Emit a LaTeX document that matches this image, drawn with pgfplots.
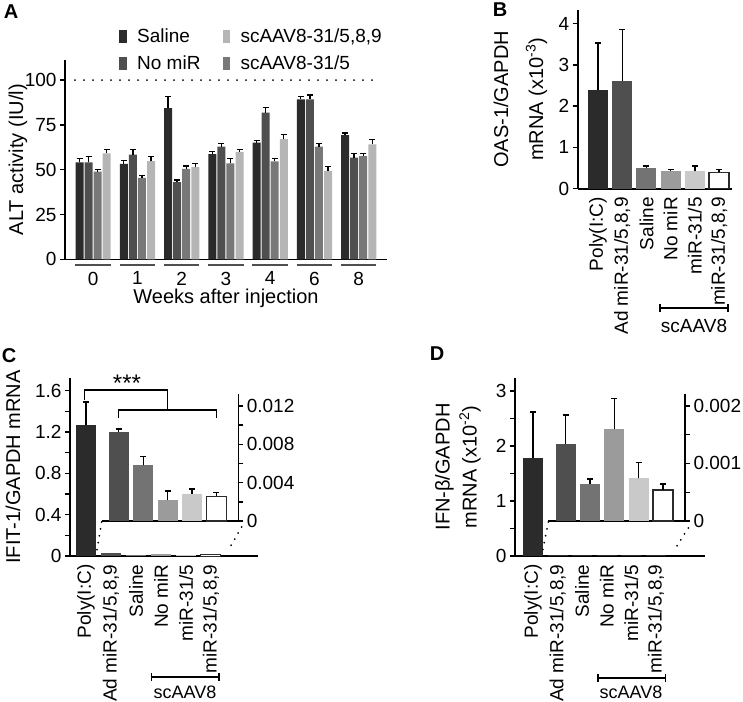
\documentclass[border=0pt]{standalone}
\usepackage{pgfplots}
\pgfplotsset{compat=1.18}
\usepackage{fontspec}
\setmainfont{Liberation Sans}

\definecolor{g1}{HTML}{2B2B2B}
\definecolor{g2}{HTML}{4F4F4F}
\definecolor{g3}{HTML}{737373}
\definecolor{g4}{HTML}{9B9B9B}
\definecolor{g5}{HTML}{C9C9C9}
\definecolor{a3}{HTML}{787878}
\definecolor{a4}{HTML}{B5B5B5}

\pgfplotsset{
  base/.style={
    scale only axis, clip=false,
    axis line style={line width=1.6bp, black},
    tick style={line width=1.4bp, black},
    tick align=outside,
    major tick length=5bp,
    tick label style={font=\fontsize{19bp}{21bp}\selectfont},
    /pgf/number format/assume math mode=true,
    scaled y ticks=false, scaled x ticks=false,
    label style={font=\fontsize{20bp}{24bp}\selectfont},
    ybar, bar width=20bp,
  },
  eb/.style={error bars/y dir=plus, error bars/y explicit,
    error bars/error mark=-,
    error bars/error bar style={line width=1.3bp, black},
    error bars/error mark options={line width=1.3bp, black, mark size=3bp, rotate=90}},
  sqlegend/.style={legend image code/.code={\fill[##1,draw=none] (0bp,-6.5bp) rectangle (7.5bp,6.5bp); \path[draw=none,fill=none] (0bp,-13.5bp) rectangle (18bp,13.5bp);}},
}

\begin{document}
\begin{tikzpicture}
\path[use as bounding box] (0,0) rectangle (743bp,-702bp);

% ---------------- Panel A ----------------
\begin{axis}[base, at={(65bp,-259.3bp)}, anchor=south west,
  width=322bp, height=199.3bp,
  xmin=-0.636, xmax=6.64, ymin=0, ymax=111.2,
  axis x line*=bottom, axis y line*=left,
  ytick={0,25,50,75,100}, xtick={0,...,6}, xticklabels={0,1,2,3,4,6,8},
  x tick style={draw=none}, xticklabel shift=4bp,
  bar width=8bp,
  xlabel={Weeks after injection},
  xlabel style={at={(axis description cs:0.5,-0.196)}, anchor=center},
  ylabel={ALT activity (IU/l)},
  ylabel style={at={(axis description cs:-0.146,0.5)}, anchor=center},
  legend columns=2, transpose legend, legend cell align=left,
  legend style={at={(axis description cs:0.1677,1.188)}, anchor=north west,
    draw=none, fill=none, inner sep=0pt,
    font=\fontsize{19bp}{21bp}\selectfont, nodes={inner sep=0pt},
    /tikz/every even column/.append style={column sep=22bp}},
]
\addplot[fill=g1, draw=none, bar shift=-13.6bp, sqlegend, eb] coordinates {
 (0,54.1) +- (0,2.0) (1,53.2) +- (0,1.8) (2,84.4) +- (0,6.3) (3,58.7) +- (0,1.5)
 (4,65.1) +- (0,1.3) (5,89.2) +- (0,1.5) (6,69.3) +- (0,1.1)};
\addlegendentry{Saline}
\addplot[fill=g2, draw=none, bar shift=-4.55bp, sqlegend, eb] coordinates {
 (0,54.1) +- (0,3.1) (1,58.4) +- (0,2.9) (2,43.1) +- (0,1.1) (3,62.8) +- (0,1.7)
 (4,81.8) +- (0,2.8) (5,89.2) +- (0,2.4) (6,56.7) +- (0,2.4)};
\addlegendentry{No miR}
\addplot[fill=a4, draw=none, bar shift=13.6bp, sqlegend, eb] coordinates {
 (0,59.1) +- (0,2.2) (1,54.8) +- (0,2.4) (2,51.5) +- (0,1.8) (3,59.9) +- (0,1.4)
 (4,67.1) +- (0,2.6) (5,49.3) +- (0,2.6) (6,64.1) +- (0,2.6)};
\addlegendentry{scAAV8-31/5,8,9}
\addplot[fill=a3, draw=none, bar shift=4.55bp, sqlegend, eb] coordinates {
 (0,48.9) +- (0,1.3) (1,45.4) +- (0,1.3) (2,50.4) +- (0,1.6) (3,53.5) +- (0,2.6)
 (4,54.6) +- (0,1.5) (5,62.8) +- (0,1.7) (6,57.6) +- (0,1.5)};
\addlegendentry{scAAV8-31/5}
\draw[line width=2bp, line cap=round, dash pattern=on 0bp off 9bp] (axis cs:-0.41,100) -- (axis cs:6.48,100);
\draw[line width=2bp, g2] (axis cs:-0.4,-3) -- (axis cs:0.4,-3);
\draw[line width=2bp, g2] (axis cs:0.6,-3) -- (axis cs:1.4,-3);
\draw[line width=2bp, g2] (axis cs:1.6,-3) -- (axis cs:2.4,-3);
\draw[line width=2bp, g2] (axis cs:2.6,-3) -- (axis cs:3.4,-3);
\draw[line width=2bp, g2] (axis cs:3.6,-3) -- (axis cs:4.4,-3);
\draw[line width=2bp, g2] (axis cs:4.6,-3) -- (axis cs:5.4,-3);
\draw[line width=2bp, g2] (axis cs:5.6,-3) -- (axis cs:6.4,-3);
\end{axis}

% ---------------- Panel B ----------------
\begin{axis}[base, at={(577.7bp,-188.7bp)}, anchor=south west,
  width=154bp, height=178.7bp,
  xmin=-0.84, xmax=5.52, ymin=0, ymax=4.33,
  axis x line*=bottom, axis y line*=left,
  ytick={0,1,2,3,4}, xtick={0,...,5},
  xticklabels={{Poly(I:C)},{Ad miR-31/5,8,9},{Saline},{No miR},{miR-31/5},{miR-31/5,8,9}},
  x tick style={draw=none}, xticklabel style={rotate=90, anchor=east},
  ylabel={OAS-1/GAPDH\\mRNA (x10\textsuperscript{-3})},
  ylabel style={at={(axis description cs:-0.371,0.5)}, anchor=center, align=center,
    font=\fontsize{20bp}{35bp}\selectfont},
]
\addplot[fill=g1, draw=none, bar shift=0pt, eb] coordinates {(0,2.40) +- (0,1.13)};
\addplot[fill=g2, draw=none, bar shift=0pt, eb] coordinates {(1,2.60) +- (0,1.26)};
\addplot[fill=g3, draw=none, bar shift=0pt, eb] coordinates {(2,0.50) +- (0,0.05)};
\addplot[fill=g4, draw=none, bar shift=0pt, eb] coordinates {(3,0.42) +- (0,0.05)};
\addplot[fill=g5, draw=none, bar shift=0pt, eb] coordinates {(4,0.42) +- (0,0.13)};
\addplot[fill=white, draw=g1, line width=1.3bp, bar shift=0pt, eb] coordinates {(5,0.40) +- (0,0.07)};
\end{axis}
\draw[line width=1.5bp] (660bp,-304bp) -- (660bp,-312bp) (660bp,-308bp) -- (728bp,-308bp) (728bp,-304bp) -- (728bp,-312bp);
\node[font=\fontsize{19bp}{21bp}\selectfont] at (694bp,-326bp) {scAAV8};

% ---------------- Panel C ----------------
\begin{axis}[base, at={(70bp,-556bp)}, anchor=south west,
  width=188bp, height=178bp,
  xmin=-0.64, xmax=6.88, ymin=0, ymax=1.723,
  axis x line*=bottom, axis y line*=left,
  ytick={0,0.2,0.4,0.6,0.8,1.0,1.2,1.4,1.6}, yticklabels={0,,0.4,,0.8,,1.2,,1.6},
  xtick={0,...,5},
  xticklabels={{Poly(I:C)},{Ad miR-31/5,8,9},{Saline},{No miR},{miR-31/5},{miR-31/5,8,9}},
  x tick style={draw=none}, xticklabel style={rotate=90, anchor=east},
  ylabel={IFIT-1/GAPDH mRNA},
  ylabel style={at={(axis description cs:-0.303,0.5)}, anchor=center},
]
\addplot[fill=g1, draw=none, bar shift=0pt, eb] coordinates {(0,1.27) +- (0,0.22)};
\addplot[fill=g2, draw=none, bar shift=0pt] coordinates {(1,0.028)};
\addplot[fill=g3, draw=none, bar shift=0pt] coordinates {(2,0.014)};
\addplot[fill=g4, draw=none, bar shift=0pt] coordinates {(3,0.016)};
\addplot[fill=g5, draw=none, bar shift=0pt] coordinates {(4,0.012)};
\addplot[fill=white, draw=g1, line width=1bp, bar shift=0pt] coordinates {(5,0.014)};
\end{axis}
\begin{axis}[base, at={(238.3bp,-521bp)}, anchor=south east,
  width=136.6bp, height=127bp,
  xmin=-0.70, xmax=4.90, ymin=0, ymax=0.01325,
  axis x line*=bottom, axis y line*=right,
  ytick={0,0.002,0.004,0.006,0.008,0.010,0.012}, yticklabels={0,,0.004,,0.008,,0.012},
  xtick=\empty,
]
\addplot[fill=g2, draw=none, bar shift=0pt, eb] coordinates {(0,0.00925) +- (0,0.00035)};
\addplot[fill=g3, draw=none, bar shift=0pt, eb] coordinates {(1,0.0058) +- (0,0.0009)};
\addplot[fill=g4, draw=none, bar shift=0pt, eb] coordinates {(2,0.00216) +- (0,0.00097)};
\addplot[fill=g5, draw=none, bar shift=0pt, eb] coordinates {(3,0.00282) +- (0,0.00052)};
\addplot[fill=white, draw=g1, line width=1.3bp, bar shift=0pt, eb] coordinates {(4,0.00257) +- (0,0.00043)};
\end{axis}
\draw[line width=1.5bp] (84.3bp,-400bp) -- (84.3bp,-390bp) -- (167.7bp,-390bp) -- (167.7bp,-410bp);
\draw[line width=1.5bp] (118.3bp,-418bp) -- (118.3bp,-410bp) -- (216.7bp,-410bp) -- (216.7bp,-418bp);
\node[font=\fontsize{24bp}{24bp}\selectfont] at (127bp,-383bp) {***};
\draw[line width=2bp, line cap=round, dash pattern=on 0bp off 7bp] (101.7bp,-522bp) -- (96.7bp,-552bp);
\draw[line width=2bp, line cap=round, dash pattern=on 0bp off 7bp] (241.7bp,-527bp) -- (228.3bp,-550bp);
\draw[line width=1.5bp] (151.7bp,-673bp) -- (151.7bp,-681bp) (151.7bp,-677bp) -- (219bp,-677bp) (219bp,-673bp) -- (219bp,-681bp);
\node[font=\fontsize{18bp}{20bp}\selectfont] at (185bp,-692bp) {scAAV8};

% ---------------- Panel D ----------------
\begin{axis}[base, at={(515bp,-556bp)}, anchor=south west,
  width=190bp, height=178bp,
  xmin=-0.73, xmax=6.99, ymin=0, ymax=3.236,
  axis x line*=bottom, axis y line*=left,
  ytick={0,0.5,1,1.5,2,2.5,3}, yticklabels={0,,1,,2,,3},
  xtick={0,...,5},
  xticklabels={{Poly(I:C)},{Ad miR-31/5,8,9},{Saline},{No miR},{miR-31/5},{miR-31/5,8,9}},
  x tick style={draw=none}, xticklabel style={rotate=90, anchor=east},
  ylabel={IFN-β/GAPDH\\mRNA (x10\textsuperscript{-2})},
  ylabel style={at={(axis description cs:-0.3,0.5)}, anchor=center, align=center,
    font=\fontsize{20bp}{27bp}\selectfont},
]
\addplot[fill=g1, draw=none, bar shift=0pt, eb] coordinates {(0,1.78) +- (0,0.84)};
\addplot[fill=g1, draw=none, bar shift=0pt] coordinates {(1,0.015)};
\addplot[fill=g1, draw=none, bar shift=0pt] coordinates {(2,0.02)};
\addplot[fill=g1, draw=none, bar shift=0pt] coordinates {(3,0.015)};
\addplot[fill=g1, draw=none, bar shift=0pt] coordinates {(4,0.015)};
\addplot[fill=g1, draw=none, bar shift=0pt] coordinates {(5,0.015)};
\end{axis}
\begin{axis}[base, at={(685bp,-521bp)}, anchor=south east,
  width=137bp, height=126.7bp,
  xmin=-0.73, xmax=4.91, ymin=0, ymax=0.0022,
  axis x line*=bottom, axis y line*=right,
  ytick={0,0.0005,0.001,0.0015,0.002}, yticklabels={0,,0.001,,0.002},
  xtick=\empty,
]
\addplot[fill=g2, draw=none, bar shift=0pt, eb] coordinates {(0,0.001345) +- (0,0.000495)};
\addplot[fill=g3, draw=none, bar shift=0pt, eb] coordinates {(1,0.000643) +- (0,0.000087)};
\addplot[fill=g4, draw=none, bar shift=0pt, eb] coordinates {(2,0.00159) +- (0,0.00054)};
\addplot[fill=g5, draw=none, bar shift=0pt, eb] coordinates {(3,0.000742) +- (0,0.000268)};
\addplot[fill=white, draw=g1, line width=1.3bp, bar shift=0pt, eb] coordinates {(4,0.00054) +- (0,0.0001)};
\end{axis}
\draw[line width=2bp, line cap=round, dash pattern=on 0bp off 7bp] (548.3bp,-522bp) -- (542.3bp,-552bp);
\draw[line width=2bp, line cap=round, dash pattern=on 0bp off 7bp] (688.3bp,-528bp) -- (675bp,-549bp);
\draw[line width=1.5bp] (598bp,-674bp) -- (598bp,-682bp) (598bp,-678bp) -- (665.7bp,-678bp) (665.7bp,-674bp) -- (665.7bp,-682bp);
\node[font=\fontsize{18bp}{20bp}\selectfont] at (631bp,-692bp) {scAAV8};

% panel letters
\node[font=\bfseries\fontsize{20bp}{20bp}\selectfont] at (11bp,-12bp) {A};
\node[font=\bfseries\fontsize{20bp}{20bp}\selectfont] at (500bp,-10bp) {B};
\node[font=\bfseries\fontsize{20bp}{20bp}\selectfont] at (9bp,-356bp) {C};
\node[font=\bfseries\fontsize{20bp}{20bp}\selectfont] at (437bp,-354bp) {D};
\end{tikzpicture}
\end{document}
